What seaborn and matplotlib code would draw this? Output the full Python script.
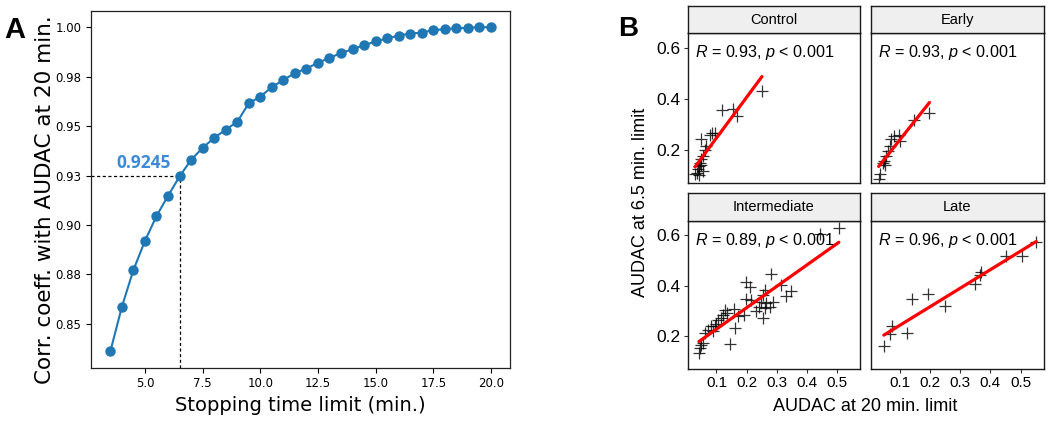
import numpy as np
import pandas as pd
import matplotlib
matplotlib.use('Agg')
import matplotlib.pyplot as plt
import seaborn as sns

sns.set_style("ticks")
plt.rcParams['font.family'] = ['DejaVu Sans']
plt.rcParams['text.color'] = 'black'
plt.rcParams['axes.labelcolor'] = 'black'
plt.rcParams['xtick.color'] = 'black'
plt.rcParams['ytick.color'] = 'black'
plt.rcParams['mathtext.fontset'] = 'custom'
plt.rcParams['mathtext.rm'] = 'Liberation Sans'
plt.rcParams['mathtext.it'] = 'Liberation Sans:italic'

# ---- panel A: correlation vs stopping time limit ----
stop_time = [3.5, 4.0, 4.5, 5.0, 5.5, 6.0, 6.5, 7.0, 7.5, 8.0, 8.5, 9.0,
             9.5, 10.0, 10.5, 11.0, 11.5, 12.0, 12.5, 13.0, 13.5, 14.0,
             14.5, 15.0, 15.5, 16.0, 16.5, 17.0, 17.5, 18.0, 18.5, 19.0,
             19.5, 20.0]
corr_coef = [0.836, 0.8586, 0.8772, 0.8919, 0.9045, 0.9147, 0.9245, 0.9329,
             0.9390, 0.9440, 0.9482, 0.9521, 0.9615, 0.9649, 0.9697, 0.9733,
             0.9768, 0.9791, 0.9820, 0.9845, 0.9869, 0.9889, 0.9909, 0.9928,
             0.9943, 0.9958, 0.9968, 0.9973, 0.9985, 0.9990, 0.9995, 0.9997,
             1.0000, 1.0000]
chosen_time = 6.5
chosen_corr = 0.9245
y_ticks_a = [0.85, 0.875, 0.90, 0.925, 0.95, 0.975, 1.00]
y_tick_labels_a = ['0.85', '0.88', '0.90', '0.93', '0.95', '0.98', '1.00']
x_ticks_a = [5.0, 7.5, 10.0, 12.5, 15.0, 17.5, 20.0]

# ---- panel B: AUDAC at 6.5 min vs 20 min, by group ----
groups = ['Control', 'Early', 'Intermediate', 'Late']
r_labels = ['0.93', '0.93', '0.89', '0.96']

control_x = [0.251, 0.119, 0.155, 0.169, 0.086, 0.095, 0.078, 0.050, 0.067, 0.061,
             0.056, 0.048, 0.045, 0.042, 0.038, 0.035, 0.041, 0.056, 0.029, 0.050]
control_y = [0.430, 0.355, 0.359, 0.334, 0.268, 0.265, 0.259, 0.245, 0.216, 0.199,
             0.176, 0.163, 0.150, 0.137, 0.124, 0.110, 0.103, 0.117, 0.106, 0.143]

early_x = [0.199, 0.149, 0.100, 0.083, 0.097, 0.067, 0.061, 0.056, 0.050, 0.045,
           0.053, 0.034, 0.031, 0.073]
early_y = [0.344, 0.318, 0.235, 0.256, 0.260, 0.216, 0.196, 0.176, 0.159, 0.150,
           0.143, 0.106, 0.087, 0.243]

inter_x = [0.506, 0.442, 0.282, 0.197, 0.210, 0.315, 0.348, 0.331, 0.260, 0.254,
           0.247, 0.265, 0.240, 0.260, 0.254, 0.287, 0.276, 0.232, 0.199, 0.216,
           0.191, 0.158, 0.172, 0.161, 0.146, 0.128, 0.122, 0.105, 0.094, 0.081,
           0.072, 0.061, 0.089, 0.050, 0.045, 0.042, 0.056, 0.135, 0.115, 0.100]
inter_y = [0.627, 0.604, 0.448, 0.415, 0.396, 0.402, 0.379, 0.359, 0.383, 0.363,
           0.337, 0.330, 0.315, 0.311, 0.272, 0.337, 0.315, 0.298, 0.346, 0.343,
           0.285, 0.307, 0.278, 0.233, 0.170, 0.304, 0.285, 0.265, 0.242, 0.239,
           0.226, 0.213, 0.220, 0.164, 0.155, 0.135, 0.174, 0.290, 0.270, 0.250]

late_x = [0.552, 0.504, 0.453, 0.370, 0.367, 0.348, 0.194, 0.142, 0.251, 0.076,
          0.069, 0.125, 0.048]
late_y = [0.571, 0.519, 0.519, 0.454, 0.443, 0.405, 0.367, 0.347, 0.320, 0.242,
          0.207, 0.213, 0.161]

x_ticks_b = [0.1, 0.2, 0.3, 0.4, 0.5]
y_ticks_b = [0.2, 0.4, 0.6]

df_b = pd.concat([
    pd.DataFrame({'audac20': control_x, 'audac65': control_y, 'group': 'Control'}),
    pd.DataFrame({'audac20': early_x, 'audac65': early_y, 'group': 'Early'}),
    pd.DataFrame({'audac20': inter_x, 'audac65': inter_y, 'group': 'Intermediate'}),
    pd.DataFrame({'audac20': late_x, 'audac65': late_y, 'group': 'Late'}),
], ignore_index=True)

W, H = 1050, 425
fig = plt.figure(figsize=(W / 100, H / 100), dpi=100)


def px_box(x0, y0, x1, y1):
    # pixel box (top-left origin) -> figure fraction rect
    return [x0 / W, 1 - y1 / H, (x1 - x0) / W, (y1 - y0) / H]


# ---------------- panel A ----------------
axA = fig.add_axes(px_box(91.3, 11, 510, 367.7))
sns.lineplot(x=stop_time, y=corr_coef, marker='o', color='#1f77b4',
             markersize=7.5, markeredgewidth=0, linewidth=1.5, ax=axA)
axA.set_xlim(2.675, 20.825)
axA.set_ylim(0.8278, 1.0082)
xmin, _ = axA.get_xlim()
ymin, _ = axA.get_ylim()
axA.plot([xmin, chosen_time], [chosen_corr, chosen_corr], color='black',
         linestyle=(0, (2.5, 2)), linewidth=0.9, zorder=1)
axA.plot([chosen_time, chosen_time], [ymin, chosen_corr], color='black',
         linestyle=(0, (2.5, 2)), linewidth=0.9, zorder=1)
axA.text(3.77, 0.9315, f'{chosen_corr:.4f}', color='#3d8ad6', fontsize=12.5,
         fontweight='bold', family='Open Sans', ha='left', va='center')
axA.set_yticks(y_ticks_a)
axA.set_yticklabels(y_tick_labels_a)
axA.set_xticks(x_ticks_a)
axA.set_xticklabels([f'{v:.1f}' for v in x_ticks_a])
axA.tick_params(labelsize=8.5, length=3.5, width=0.8, color='black')
for sp in axA.spines.values():
    sp.set_visible(True)
    sp.set_linewidth(0.9)
    sp.set_color('#222222')
axA.set_xlabel('Stopping time limit (min.)', fontsize=14, labelpad=4)
axA.set_ylabel('Corr. coeff. with AUDAC at 20 min.', fontsize=15.5)
axA.yaxis.set_label_coords(-0.087, 0.47)
fig.text(4 / W, 1 - 30 / H, 'A', fontsize=21, fontweight='bold',
         family='Liberation Sans', ha='left', va='center')

# ---------------- panel B ----------------
cols = [(687.5, 860.0), (870.5, 1043.5)]
rows = [(33.3, 183.3, 6.0), (221.0, 369.0, 193.3)]
for i, grp in enumerate(groups):
    c0, c1 = cols[i % 2]
    r0, r1, s0 = rows[i // 2]
    ax = fig.add_axes(px_box(c0, r0, c1, r1))
    sub = df_b[df_b['group'] == grp]
    sns.regplot(data=sub, x='audac20', y='audac65', ci=None, marker='+',
                color='black', ax=ax,
                scatter_kws={'s': 65, 'linewidths': 0.9, 'color': 'black'},
                line_kws={'color': '#ff0000', 'linewidth': 2.3})
    ax.set_xlim(0.004, 0.576)
    ax.set_ylim(0.07, 0.656)
    ax.set_xticks(x_ticks_b)
    ax.set_yticks(y_ticks_b)
    ax.set_xlabel('')
    ax.set_ylabel('')
    for sp in ax.spines.values():
        sp.set_visible(True)
        sp.set_linewidth(1.0)
        sp.set_color('#1a1a1a')
    ax.tick_params(length=3, width=0.8, color='#333333', labelcolor='black', pad=2)
    ax.tick_params(axis='y', labelsize=12.5)
    ax.tick_params(axis='x', labelsize=11)
    for lab in ax.get_xticklabels() + ax.get_yticklabels():
        lab.set_family('Liberation Sans')
    if i % 2 == 1:
        ax.tick_params(axis='y', labelleft=False, length=0)
    if i // 2 == 0:
        ax.tick_params(axis='x', labelbottom=False, length=0)
    ax.text(0.045, 0.87, f'$R$ = {r_labels[i]}, $p$ < 0.001', transform=ax.transAxes,
            fontsize=11.6, family='Liberation Sans', ha='left', va='center')
    # facet strip
    sax = fig.add_axes(px_box(c0, s0, c1, r0))
    sax.set_facecolor('#efefef')
    sax.set_xticks([])
    sax.set_yticks([])
    for sp in sax.spines.values():
        sp.set_visible(True)
        sp.set_linewidth(1.0)
        sp.set_color('#1a1a1a')
    sax.text(0.5, 0.5, grp, fontsize=10.5, family='Liberation Sans',
             ha='center', va='center', transform=sax.transAxes)

fig.text(865.5 / W, 1 - 406.5 / H, 'AUDAC at 20 min. limit', fontsize=13,
         family='Liberation Sans', ha='center', va='center')
fig.text(640 / W, 1 - 202.5 / H, 'AUDAC at 6.5 min. limit', fontsize=13,
         family='Liberation Sans', ha='center', va='center', rotation=90)
fig.text(618 / W, 1 - 29 / H, 'B', fontsize=20, fontweight='bold',
         family='Liberation Sans', ha='left', va='center')

fig.savefig('out.png', dpi=100)
